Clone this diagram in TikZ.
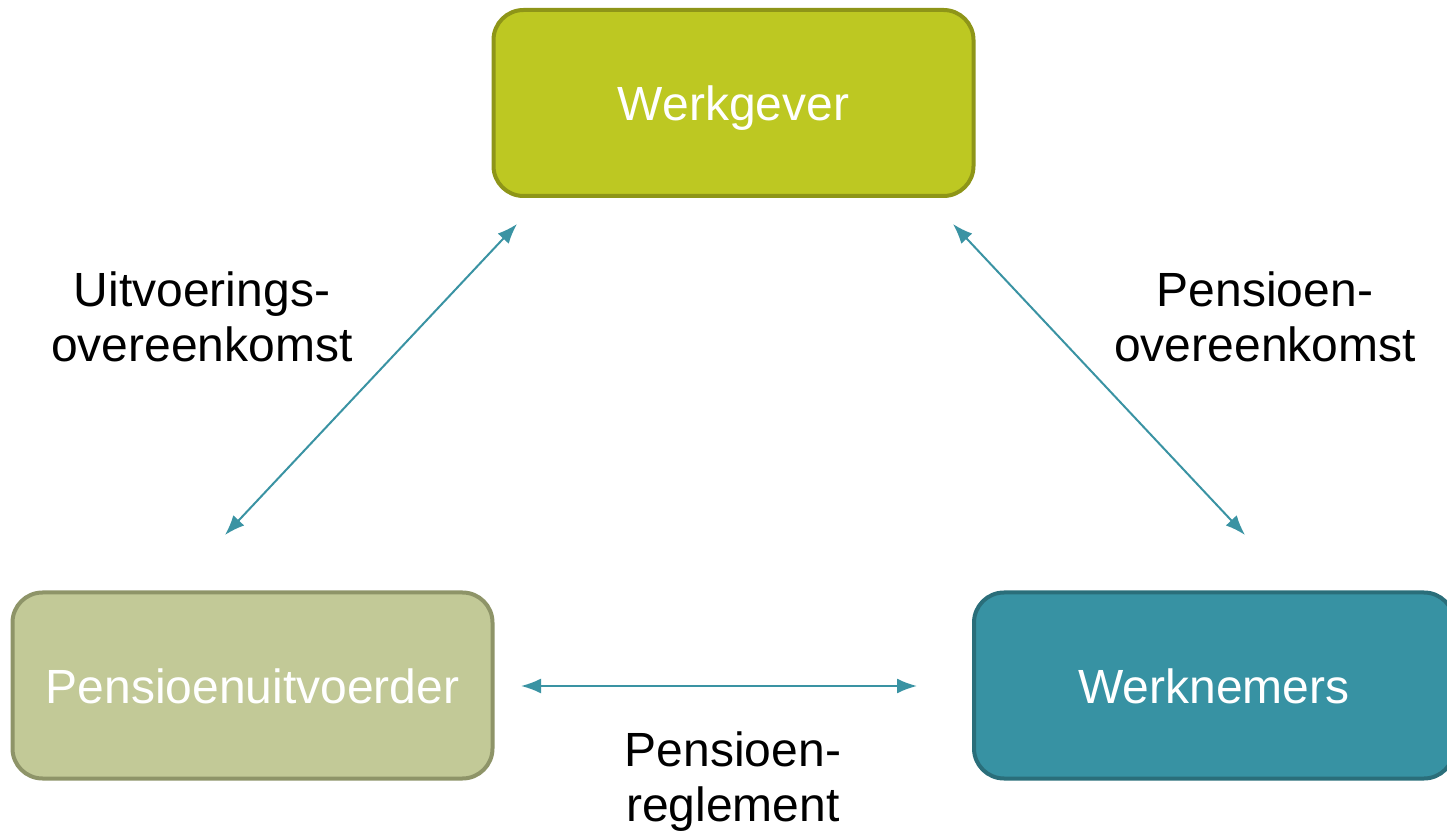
\documentclass[tikz,border=0pt]{standalone}
\usepackage{fontspec}
\setmainfont{Liberation Sans}
\usetikzlibrary{arrows.meta}
\definecolor{wgfill}{HTML}{BDC822}
\definecolor{wgline}{HTML}{8E9518}
\definecolor{pufill}{HTML}{C2C997}
\definecolor{puline}{HTML}{8E9468}
\definecolor{wnfill}{HTML}{3792A3}
\definecolor{wnline}{HTML}{2A6E7A}
\definecolor{arrowc}{HTML}{3A93A3}
\tikzset{
  box/.style={rounded corners=30pt, line width=4pt, minimum width=480pt, minimum height=186pt,
    text=white, font=\fontsize{48}{55}\selectfont, inner sep=0pt, text height=42pt, text depth=6pt},
  lbl/.style={align=center, font=\fontsize{48}{55}\selectfont, text=black, inner sep=0pt},
  conn/.style={draw=arrowc, line width=2pt, {Latex[length=20pt,width=15pt]}-{Latex[length=20pt,width=15pt]}}
}
\begin{document}
\begin{tikzpicture}[x=1pt,y=1pt]
\useasboundingbox (0,0) rectangle (1447,838);
\clip (0,0) rectangle (1447,838);
\node[box, fill=wgfill, draw=wgline] (wg) at (733.5,735) {Werkgever};
\node[box, fill=pufill, draw=puline] (pu) at (252.5,152.5) {Pensioenuitvoerder};
\node[box, fill=wnfill, draw=wnline] (wn) at (1214,152.5) {Werknemers};
\coordinate (a1) at (225,303);
\coordinate (a2) at (517,614);
\coordinate (b1) at (953,614);
\coordinate (b2) at (1245,303);
\coordinate (c1) at (521,152);
\coordinate (c2) at (917,152);
\draw[conn] (a1) -- (a2);
\draw[conn] (b1) -- (b2);
\draw[conn] (c1) -- (c2);
\node[lbl] (l1) at (202,521) {Uitvoerings-\\overeenkomst};
\node[lbl] (l2) at (1265,521) {Pensioen-\\overeenkomst};
\node[lbl] (l3) at (733,56) {Pensioen-\\reglement};
\end{tikzpicture}
\end{document}
